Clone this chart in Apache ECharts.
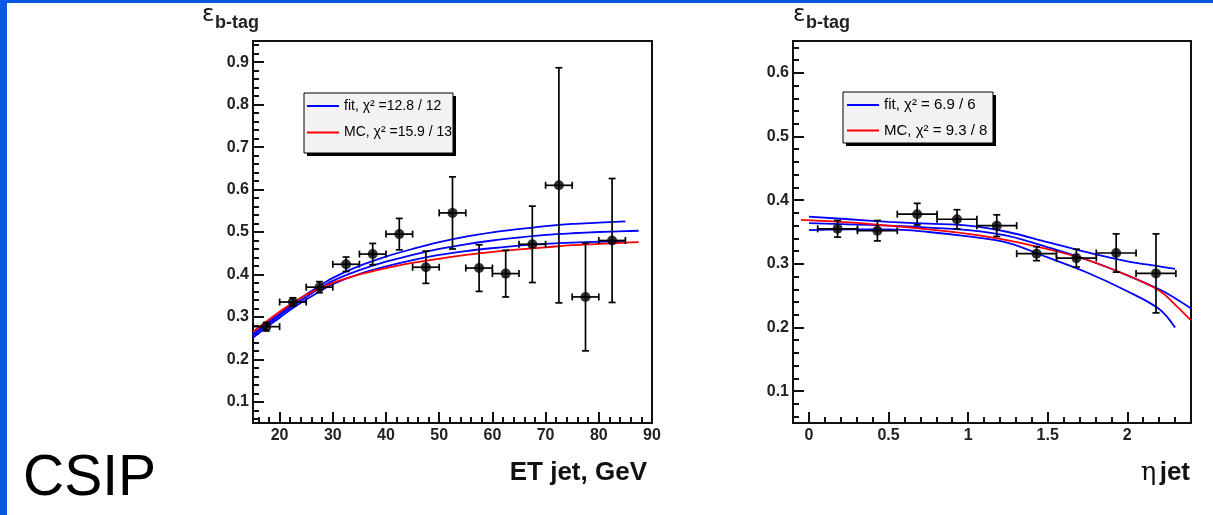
<!DOCTYPE html>
<html>
<head>
<meta charset="utf-8">
<script src="https://cdn.jsdelivr.net/npm/echarts@6/dist/echarts.min.js"></script>
<style>
  html, body { margin: 0; padding: 0; width: 1213px; height: 515px; overflow: hidden; background: #0858e4; }
  #sheet { position: absolute; left: 7px; top: 3px; right: 0; bottom: 0; background: #ffffff; }
  #chart { position: absolute; left: 0; top: 0; width: 1213px; height: 515px; }
</style>
</head>
<body>
<div id="sheet"></div>
<div id="chart"></div>
<script>
// ---- b-tag efficiency vs jet ET ----
const etBins      = [17.5, 22.5, 27.5, 32.5, 37.5, 42.5, 47.5, 52.5, 57.5, 62.5, 67.5, 72.5, 77.5, 82.5];
const etEff       = [0.277, 0.335, 0.370, 0.424, 0.448, 0.495, 0.417, 0.545, 0.415, 0.402, 0.471, 0.610, 0.347, 0.480];
const etErr       = [0.010, 0.010, 0.013, 0.017, 0.025, 0.037, 0.038, 0.085, 0.055, 0.055, 0.090, 0.277, 0.127, 0.146];
const etHalfBin   = 2.5;
const etCurveX    = [15, 17.5, 20, 22.5, 25, 27.5, 30, 35, 40, 45, 50, 55, 60, 65, 70, 75, 80, 85, 87.5];
const etFit       = [0.256, 0.280, 0.303, 0.326, 0.347, 0.367, 0.385, 0.410, 0.430, 0.446, 0.460, 0.471, 0.480, 0.487, 0.493, 0.497, 0.500, 0.502, 0.503];
const etFitHi     = [0.260, 0.284, 0.307, 0.331, 0.353, 0.373, 0.392, 0.420, 0.442, 0.460, 0.476, 0.489, 0.499, 0.507, 0.514, 0.519, 0.522, 0.525];
const etFitLo     = [0.251, 0.275, 0.298, 0.321, 0.341, 0.360, 0.377, 0.401, 0.419, 0.434, 0.446, 0.455, 0.462, 0.468, 0.472, 0.475, 0.477, 0.479];
const etMc        = [0.265, 0.289, 0.312, 0.333, 0.352, 0.367, 0.380, 0.400, 0.415, 0.427, 0.437, 0.446, 0.453, 0.459, 0.464, 0.469, 0.472, 0.475, 0.476];
const etFitName   = 'fit, χ² =12.8 / 12';
const etMcName    = 'MC, χ² =15.9 / 13';

// ---- b-tag efficiency vs jet eta ----
const etaBins     = [0.18, 0.43, 0.68, 0.93, 1.18, 1.43, 1.68, 1.93, 2.18];
const etaEff      = [0.355, 0.352, 0.378, 0.370, 0.360, 0.316, 0.309, 0.317, 0.285];
const etaErr      = [0.013, 0.016, 0.017, 0.015, 0.017, 0.011, 0.014, 0.030, 0.062];
const etaHalfBin  = 0.125;
const etaCurveX   = [0, 0.25, 0.5, 0.75, 1.0, 1.25, 1.5, 1.75, 2.0, 2.2, 2.3, 2.4];
const etaFit      = [0.364, 0.362, 0.360, 0.357, 0.353, 0.344, 0.326, 0.306, 0.282, 0.260, 0.246, 0.230];
const etaFitHi    = [0.374, 0.370, 0.366, 0.363, 0.360, 0.350, 0.334, 0.318, 0.304, 0.296, 0.292];
const etaFitLo    = [0.353, 0.354, 0.354, 0.350, 0.343, 0.333, 0.310, 0.286, 0.257, 0.229, 0.200];
const etaMcX      = [-0.05, 0.25, 0.5, 0.75, 1.0, 1.25, 1.5, 1.75, 2.0, 2.2, 2.3, 2.4];
const etaMc       = [0.369, 0.365, 0.360, 0.354, 0.347, 0.337, 0.323, 0.306, 0.282, 0.258, 0.236, 0.211];
const etaFitName  = 'fit, χ² = 6.9 / 6';
const etaMcName   = 'MC, χ² = 9.3 / 8';

const FONT = '"Liberation Sans", Arial, Helvetica, sans-serif';
const BLUE = '#0000ff';
const RED = '#ff0000';

const zip = (xs, ys) => ys.map((y, i) => [xs[i], y]);
const points = (xs, ys, es, hw) => xs.map((x, i) => [x, ys[i], es[i], hw]);

// Error bars with small end caps on both directions
function errorBars(params, api) {
  const x = api.value(0), y = api.value(1), ey = api.value(2), ex = api.value(3);
  const top = api.coord([x, y + ey]);
  const bot = api.coord([x, y - ey]);
  const lft = api.coord([x - ex, y]);
  const rgt = api.coord([x + ex, y]);
  const c = 3.5;
  const style = { stroke: '#000', lineWidth: 1.7 };
  const seg = (x1, y1, x2, y2) => ({ type: 'line', shape: { x1, y1, x2, y2 }, style });
  return {
    type: 'group',
    children: [
      seg(top[0], top[1], bot[0], bot[1]),
      seg(lft[0], lft[1], rgt[0], rgt[1]),
      seg(top[0] - c, top[1], top[0] + c, top[1]),
      seg(bot[0] - c, bot[1], bot[0] + c, bot[1]),
      seg(lft[0], lft[1] - c, lft[0], lft[1] + c),
      seg(rgt[0], rgt[1] - c, rgt[0], rgt[1] + c)
    ]
  };
}

const tickLine = { color: '#111', width: 2 };
const labelStyle = { fontFamily: FONT, fontSize: 16, fontWeight: 'bold', color: '#222' };

function majorAxis(grid, min, max, step, split, extra) {
  return Object.assign({
    type: 'value', gridIndex: grid, min, max,
    minInterval: step, maxInterval: step, splitNumber: split,
    axisLine: { show: false, onZero: false },
    axisTick: { show: true, inside: true, length: 11, lineStyle: tickLine },
    splitLine: { show: false }
  }, extra);
}
function minorAxis(grid, min, max, step, split, pos) {
  return {
    type: 'value', gridIndex: grid, min, max, position: pos,
    minInterval: step, maxInterval: step, splitNumber: split,
    axisLine: { show: false, onZero: false },
    axisTick: { show: true, inside: true, length: 6, lineStyle: tickLine },
    axisLabel: { show: false },
    splitLine: { show: false }
  };
}

function curve(name, xs, ys, color, xi, yi) {
  return {
    type: 'line', name, data: zip(xs, ys), xAxisIndex: xi, yAxisIndex: yi,
    smooth: 0.35, showSymbol: false, symbol: 'none', silent: true, z: 3,
    lineStyle: { color, width: 1.8 }, itemStyle: { color }
  };
}

// Legend entries; the framed box behind them is drawn as graphic rects
function legendEntries(names, left, top, gap, size) {
  return {
    data: names, orient: 'vertical', left, top, z: 10,
    icon: 'rect', itemWidth: 32, itemHeight: 2, itemGap: gap,
    padding: 0, selectedMode: false,
    textStyle: { fontFamily: FONT, fontSize: size, color: '#000' }
  };
}
function legendFrame(x, y, w, h) {
  return [
    { type: 'rect', z: 8, shape: { x: x + 3, y: y + 3, width: w, height: h }, style: { fill: '#000' } },
    { type: 'rect', z: 9, shape: { x, y, width: w, height: h }, style: { fill: '#f2f2f2', stroke: '#000', lineWidth: 1 } }
  ];
}

const chart = echarts.init(document.getElementById('chart'), null, { renderer: 'canvas' });

chart.setOption({
  animation: false,
  backgroundColor: 'transparent',
  grid: [
    { left: 253, top: 41, width: 399, height: 382, show: true, borderColor: '#111', borderWidth: 2, backgroundColor: 'transparent' },
    { left: 793, top: 41, width: 398, height: 382, show: true, borderColor: '#111', borderWidth: 2, backgroundColor: 'transparent' }
  ],
  xAxis: [
    majorAxis(0, 15, 90, 10, 8, { position: 'bottom',
      axisLabel: Object.assign({ margin: 5, showMinLabel: false, showMaxLabel: true }, labelStyle) }),
    minorAxis(0, 15, 90, 2, 37, 'bottom'),
    majorAxis(1, -0.1, 2.4, 0.5, 5, { position: 'bottom',
      axisLabel: Object.assign({ margin: 5, showMinLabel: false, showMaxLabel: false }, labelStyle) }),
    minorAxis(1, -0.1, 2.4, 0.1, 25, 'bottom')
  ],
  yAxis: [
    majorAxis(0, 0.05, 0.95, 0.1, 9, { position: 'left',
      axisLabel: Object.assign({ margin: 4, showMinLabel: false, showMaxLabel: false,
        formatter: v => v.toFixed(1) }, labelStyle) }),
    minorAxis(0, 0.05, 0.95, 0.02, 45, 'left'),
    majorAxis(1, 0.05, 0.65, 0.1, 6, { position: 'left',
      axisLabel: Object.assign({ margin: 4, showMinLabel: false, showMaxLabel: false,
        formatter: v => v.toFixed(1) }, labelStyle) }),
    minorAxis(1, 0.05, 0.65, 0.02, 30, 'left')
  ],
  legend: [
    legendEntries([etFitName, etMcName], 307, 99, 12.5, 14),
    legendEntries([etaFitName, etaMcName], 847, 97.5, 10.5, 15)
  ],
  series: [
    // ET panel
    curve('ET fit upper', etCurveX, etFitHi, BLUE, 0, 0),
    curve('ET fit lower', etCurveX, etFitLo, BLUE, 0, 0),
    curve(etFitName, etCurveX, etFit, BLUE, 0, 0),
    curve(etMcName, etCurveX, etMc, RED, 0, 0),
    { type: 'custom', name: 'ET errors', xAxisIndex: 0, yAxisIndex: 0, renderItem: errorBars,
      data: points(etBins, etEff, etErr, etHalfBin), encode: { x: 0, y: 1 }, z: 5, silent: true },
    { type: 'scatter', name: 'ET data', xAxisIndex: 0, yAxisIndex: 0, data: zip(etBins, etEff),
      symbol: 'circle', symbolSize: 10, itemStyle: { color: '#000' }, z: 6, silent: true },
    // eta panel
    curve('eta fit upper', etaCurveX, etaFitHi, BLUE, 2, 2),
    curve('eta fit lower', etaCurveX, etaFitLo, BLUE, 2, 2),
    curve(etaFitName, etaCurveX, etaFit, BLUE, 2, 2),
    curve(etaMcName, etaMcX, etaMc, RED, 2, 2),
    { type: 'custom', name: 'eta errors', xAxisIndex: 2, yAxisIndex: 2, renderItem: errorBars,
      data: points(etaBins, etaEff, etaErr, etaHalfBin), encode: { x: 0, y: 1 }, z: 5, silent: true },
    { type: 'scatter', name: 'eta data', xAxisIndex: 2, yAxisIndex: 2, data: zip(etaBins, etaEff),
      symbol: 'circle', symbolSize: 10, itemStyle: { color: '#000' }, z: 6, silent: true }
  ],
  graphic: [
    ...legendFrame(304, 93, 149, 60),
    ...legendFrame(843, 92, 150, 51),
    // y-axis titles
    { type: 'text', x: 202, y: 15, style: { text: 'ε', font: '23px "DejaVu Sans"', fill: '#111', verticalAlign: 'middle' } },
    { type: 'text', x: 215, y: 23, style: { text: 'b-tag', font: 'bold 18px ' + FONT, fill: '#222', verticalAlign: 'middle' } },
    { type: 'text', x: 793, y: 15, style: { text: 'ε', font: '23px "DejaVu Sans"', fill: '#111', verticalAlign: 'middle' } },
    { type: 'text', x: 806, y: 23, style: { text: 'b-tag', font: 'bold 18px ' + FONT, fill: '#222', verticalAlign: 'middle' } },
    // x-axis titles
    { type: 'text', x: 647, y: 473, style: { text: 'ET jet, GeV', font: 'bold 26px ' + FONT, fill: '#111', align: 'right', verticalAlign: 'middle' } },
    { type: 'text', x: 1190, y: 473, style: {
        text: '{g|η} {b|jet}', align: 'right', verticalAlign: 'middle', fill: '#111',
        rich: { g: { font: '26px "DejaVu Serif"', fill: '#111' }, b: { font: 'bold 26px ' + FONT, fill: '#111' } } } },
    // slide label
    { type: 'text', x: 23, y: 479, style: { text: 'CSIP', font: '57px ' + FONT, fill: '#000', verticalAlign: 'middle' } }
  ]
});
</script>
</body>
</html>
